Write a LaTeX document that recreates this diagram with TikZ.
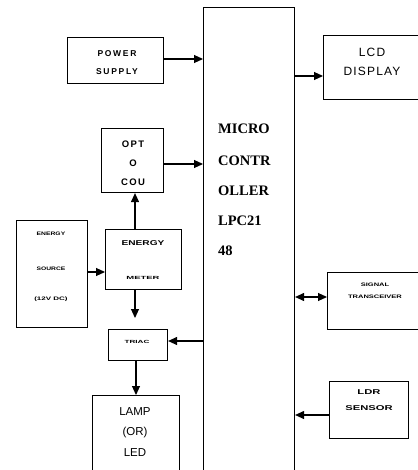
\documentclass[tikz,border=0pt]{standalone}
\usepackage{fontspec}
\usepackage{graphicx}
\setmainfont{Liberation Sans}
\newfontfamily\serifb{Liberation Serif}
\usetikzlibrary{arrows.meta}
\newcommand\hstretch[2]{\scalebox{#1}[1]{#2}}
\begin{document}
\begin{tikzpicture}[x=1pt,y=-1pt,
  box/.style={draw, line width=1.1pt, anchor=north west, inner sep=0pt},
  arr/.style={-{Triangle[length=9pt,width=8pt]}, line width=1.1pt},
  darr/.style={{Triangle[length=9pt,width=8pt]}-{Triangle[length=9pt,width=8pt]}, line width=1.1pt},
  lbl/.style={inner sep=0pt, align=center},
  mc/.style={inner sep=0pt, anchor=base west, font=\serifb\bfseries\fontsize{14.5}{14}\selectfont}]
\useasboundingbox (0,0) rectangle (417,470);
\fill[white] (0,0) rectangle (417,470);
% boxes
\node[box, minimum width=91pt, minimum height=475pt] (micro) at (203,7) {};
\node[box, minimum width=96pt, minimum height=46pt] (power) at (67,37) {};
\node[box, minimum width=100pt, minimum height=64pt] (lcd) at (323,35) {};
\node[box, minimum width=62pt, minimum height=64pt] (opto) at (101,128) {};
\node[box, minimum width=76pt, minimum height=60pt] (emeter) at (105,229) {};
\node[box, minimum width=71pt, minimum height=107pt] (esrc) at (16,220) {};
\node[box, minimum width=59pt, minimum height=31pt] (triac) at (108,329) {};
\node[box, minimum width=87pt, minimum height=80pt] (lamp) at (92,395) {};
\node[box, minimum width=95pt, minimum height=57pt] (signal) at (327,272) {};
\node[box, minimum width=79pt, minimum height=57pt] (ldr) at (329,381) {};
% texts
\node[mc] (m1) at (218,134) {MICRO};
\node[mc] (m2) at (218,166) {CONTR};
\node[mc] (m3) at (218,195) {OLLER};
\node[mc] (m4) at (218,225) {LPC21};
\node[mc] (m5) at (218,255) {48};
\node[lbl, font=\bfseries\fontsize{8.5}{18}\selectfont\addfontfeatures{LetterSpace=20}] (powert) at (117,63) {POWER\\SUPPLY};
\node[lbl, font=\fontsize{12}{19}\selectfont\addfontfeatures{LetterSpace=10}] (lcdt) at (372,62) {LCD\\DISPLAY};
\node[lbl, font=\bfseries\fontsize{9.5}{19}\selectfont\addfontfeatures{LetterSpace=15}] (optot) at (133,163) {OPT\\O\\COU};
\node[lbl, font=\bfseries\fontsize{7}{8}\selectfont] (emt1) at (143,243) {\hstretch{1.45}{ENERGY}};
\node[lbl, font=\bfseries\fontsize{4.5}{5}\selectfont] (emt2) at (143,278) {\hstretch{2.1}{METER}};
\node[lbl, font=\bfseries\fontsize{5}{5}\selectfont] (es1) at (51,234) {\hstretch{1.35}{ENERGY}};
\node[lbl, font=\bfseries\fontsize{5}{5}\selectfont] (es2) at (51,269) {\hstretch{1.35}{SOURCE}};
\node[lbl, font=\bfseries\fontsize{5}{5}\selectfont] (es3) at (51,299) {\hstretch{1.6}{(12V DC)}};
\node[lbl, font=\bfseries\fontsize{4.5}{5}\selectfont] (triact) at (137,342) {\hstretch{1.8}{TRIAC}};
\node[lbl, font=\fontsize{11.5}{20.5}\selectfont] (lampt) at (135,432) {LAMP\\(OR)\\LED};
\node[lbl, font=\bfseries\fontsize{5}{12}\selectfont] (sigt) at (375,291) {\hstretch{1.5}{SIGNAL}\\\hstretch{1.5}{TRANSCEIVER}};
\node[lbl, font=\bfseries\fontsize{7}{16}\selectfont] (ldrt) at (369,400) {\hstretch{1.6}{LDR}\\\hstretch{1.6}{SENSOR}};
% connectors
\coordinate (edown) at (135,318);
\draw[arr] (power.east |- 0,59) -- (micro.west |- 0,59);
\draw[arr] (micro.east |- 0,76) -- (lcd.west |- 0,76);
\draw[arr] (opto.east |- 0,164) -- (micro.west |- 0,164);
\draw[arr] (emeter.north -| edown) -- (opto.south -| edown);
\draw[arr] (esrc.east |- 0,272) -- (emeter.west |- 0,272);
\draw[arr] (emeter.south -| edown) -- (edown);
\draw[arr] (micro.west |- 0,341) -- (triac.east |- 0,341);
\draw[arr] (triac.south -| 136,0) -- (lamp.north -| 136,0);
\draw[darr] (micro.east |- 0,297) -- (signal.west |- 0,297);
\draw[arr] (ldr.west |- 0,415) -- (micro.east |- 0,415);
\end{tikzpicture}
\end{document}
